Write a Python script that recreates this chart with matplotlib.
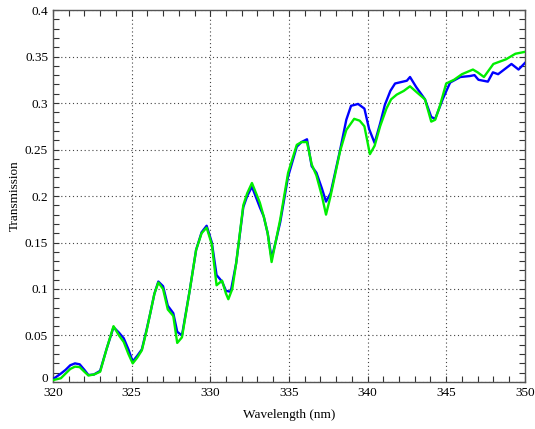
import matplotlib
matplotlib.use("Agg")
import matplotlib.pyplot as plt
import matplotlib.transforms as mtransforms
from matplotlib.ticker import MultipleLocator, FuncFormatter

wl_blue = [320.0, 320.5, 320.8, 321.1, 321.4, 321.7, 322.0, 322.25, 322.6, 323.0,
           323.4, 323.85, 324.2, 324.5, 324.8, 325.07, 325.35, 325.65, 325.95, 326.2,
           326.45, 326.7, 327.0, 327.3, 327.65, 327.9, 328.2, 328.7, 329.1, 329.45,
           329.77, 330.1, 330.4, 330.75, 331.0, 331.3, 331.65, 332.1, 332.35, 332.65,
           333.15, 333.4, 333.65, 333.9, 334.15, 334.45, 334.95, 335.5, 335.8, 336.15,
           336.45, 336.75, 337.1, 337.36, 337.65, 338.25, 338.65, 338.95, 339.4, 339.8,
           340.1, 340.45, 340.8, 341.1, 341.45, 341.75, 342.25, 342.5, 342.7, 343.1,
           343.65, 344.05, 344.3, 344.8, 345.25, 345.9, 346.5, 346.8, 347.05, 347.65,
           347.97, 348.3, 349.15, 349.6, 350.0]
trans_blue = [0.003, 0.009, 0.013, 0.018, 0.020, 0.019, 0.013, 0.0075, 0.008, 0.012,
              0.035, 0.059, 0.053, 0.047, 0.035, 0.022, 0.028, 0.035, 0.056, 0.075,
              0.095, 0.108, 0.103, 0.082, 0.074, 0.054, 0.050, 0.099, 0.142, 0.161,
              0.168, 0.150, 0.115, 0.108, 0.098, 0.097, 0.128, 0.188, 0.200, 0.210,
              0.188, 0.178, 0.160, 0.133, 0.150, 0.172, 0.221, 0.253, 0.258, 0.261,
              0.232, 0.225, 0.208, 0.194, 0.203, 0.249, 0.282, 0.297, 0.299, 0.294,
              0.272, 0.257, 0.278, 0.298, 0.313, 0.321, 0.323, 0.324, 0.328, 0.317,
              0.304, 0.285, 0.283, 0.305, 0.322, 0.328, 0.329, 0.330, 0.325, 0.323,
              0.333, 0.331, 0.342, 0.336, 0.343]

wl_green = [320.0, 320.5, 320.8, 321.1, 321.4, 321.7, 322.0, 322.25, 322.6, 323.0,
            323.4, 323.85, 324.2, 324.5, 324.8, 325.07, 325.35, 325.65, 325.95, 326.2,
            326.45, 326.7, 327.0, 327.3, 327.65, 327.9, 328.2, 328.7, 329.1, 329.45,
            329.77, 330.1, 330.4, 330.75, 331.0, 331.15, 331.4, 331.65, 332.1, 332.35,
            332.65, 333.15, 333.4, 333.65, 333.9, 334.15, 334.45, 334.95, 335.5, 335.8,
            336.15, 336.45, 336.75, 337.1, 337.36, 337.65, 338.25, 338.65, 339.15, 339.5,
            339.8, 340.15, 340.45, 340.8, 341.2, 341.5, 341.85, 342.3, 342.7, 343.1,
            343.65, 344.05, 344.3, 344.6, 345.0, 345.5, 346.0, 346.7, 347.0, 347.4,
            348.0, 348.8, 349.4, 350.0]
trans_green = [0.002, 0.004, 0.009, 0.014, 0.0165, 0.016, 0.011, 0.007, 0.008, 0.011,
               0.035, 0.060, 0.050, 0.043, 0.030, 0.020, 0.026, 0.034, 0.055, 0.075,
               0.095, 0.107, 0.100, 0.078, 0.071, 0.042, 0.048, 0.099, 0.142, 0.160,
               0.166, 0.148, 0.104, 0.109, 0.095, 0.089, 0.100, 0.128, 0.190, 0.203,
               0.214, 0.193, 0.178, 0.160, 0.129, 0.150, 0.175, 0.225, 0.255, 0.258,
               0.258, 0.234, 0.222, 0.200, 0.180, 0.200, 0.248, 0.271, 0.283, 0.281,
               0.275, 0.245, 0.254, 0.275, 0.294, 0.304, 0.309, 0.313, 0.318, 0.312,
               0.304, 0.280, 0.282, 0.297, 0.321, 0.325, 0.331, 0.336, 0.333, 0.328,
               0.342, 0.347, 0.353, 0.355]

plt.rcParams['font.family'] = ['Liberation Serif', 'DejaVu Serif']

fig = plt.figure(figsize=(5.35, 4.29), dpi=100)
ax = fig.add_axes([0.099, 0.1096, 0.882, 0.867])

ax.plot(wl_blue, trans_blue, color='#0000ff', lw=1.7, zorder=3)
ax.plot(wl_green, trans_green, color='#00ee00', lw=1.7, zorder=4)

ax.set_xlim(320, 350)
ax.set_ylim(0, 0.4)
ax.xaxis.set_major_locator(MultipleLocator(5))
ax.xaxis.set_minor_locator(MultipleLocator(1))
ax.yaxis.set_major_locator(MultipleLocator(0.05))
ax.yaxis.set_minor_locator(MultipleLocator(0.01))
ax.yaxis.set_major_formatter(FuncFormatter(lambda v, p: ('%.2f' % v).rstrip('0').rstrip('.') if v != 0 else '0'))

ax.grid(True, which='major', linestyle=(0, (1, 2.5)), color='#444444', lw=0.8)
ax.tick_params(which='both', direction='in', top=True, right=True, length=4,
               width=0.8, color='#333333', labelsize=9.5)
for s in ax.spines.values():
    s.set_color('#555555')
    s.set_linewidth(1.0)

ax.set_xlabel('Wavelength (nm)', fontsize=9.5, labelpad=7)
ax.set_ylabel('Transmission', fontsize=9.5, labelpad=3)

fig.canvas.draw()
# nudge the "0" y tick label up slightly so it does not collide with "320"
for t in ax.yaxis.get_majorticklabels():
    if t.get_text() == '0':
        t.set_transform(t.get_transform() + mtransforms.ScaledTranslation(0, 3 / 72, fig.dpi_scale_trans))

fig.savefig('out.png', dpi=100)
